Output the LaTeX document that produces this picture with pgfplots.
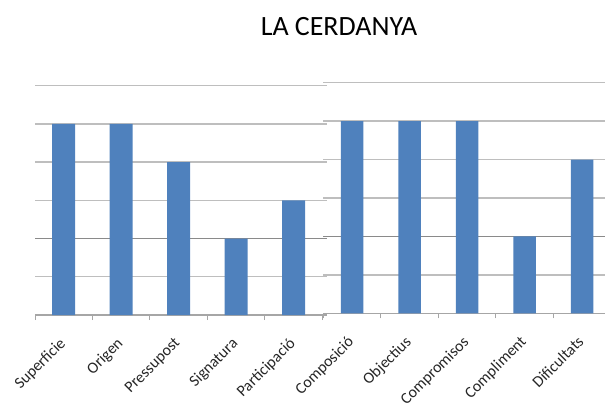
\documentclass[border=0pt]{standalone}
\usepackage{fontspec}
\setmainfont{Carlito}
\usepackage{pgfplots}
\pgfplotsset{compat=1.18}
\definecolor{barblue}{HTML}{4F81BD}
\definecolor{gridgray}{HTML}{BEBEBE}
\definecolor{axisgray}{HTML}{A6A6A6}
\definecolor{darkgrid}{HTML}{8A8A8A}

\begin{document}
\begin{tikzpicture}[x=1bp,y=1bp]
\useasboundingbox (0,0) rectangle (605,408);
\node[anchor=base, inner sep=0pt, font=\fontsize{28}{30}\selectfont] at (339,373) {LA CERDANYA};
\pgfplotsset{cerd/.style={
  scale only axis,
  anchor=south west,
  ymin=0, ymax=6,
  ytick={0,1,3,4,5,6},
  extra y ticks={2},
  extra y tick style={grid style={darkgrid, line width=1.3bp}},
  yticklabels={}, extra y tick labels={},
  ymajorgrids,
  grid style={gridgray, line width=1.3bp},
  axis lines*=left,
  y axis line style={draw=none},
  ytick style={draw=none},
  x axis line style={axisgray, line width=1.2bp, -},
  xtick={0,1,2,3,4},
  minor xtick={-0.5,0.5,1.5,2.5,3.5,4.5},
  major tick length=0pt,
  minor tick length=5bp,
  tick align=outside,
  xtick style={axisgray, line width=1bp},
  xticklabel style={rotate=45, anchor=north east, inner sep=0pt,
     font=\fontsize{16}{16}\selectfont, xshift=-18.9bp, yshift=-11.3bp, text=black!85},
  clip=true,
}}
\begin{axis}[cerd, at={(35bp,93bp)}, width=291.9bp, height=229.3bp,
  xmin=-0.5, xmax=4.58,
  xticklabels={Superficie,Origen,Pressupost,Signatura,Participació}]
\addplot[ybar, bar width=23bp, fill=barblue, draw=none]
  coordinates {(0,5) (1,5) (2,4) (3,2) (4,3)};
\end{axis}
\begin{axis}[cerd, at={(323.3bp,94.7bp)}, width=281.75bp, height=230.6bp,
  xmin=-0.5, xmax=4.4,
  xticklabels={Composició,Objectius,Compromisos,Compliment,Dificultats}]
\addplot[ybar, bar width=22.5bp, fill=barblue, draw=none]
  coordinates {(0,5) (1,5) (2,5) (3,2) (4,4)};
\end{axis}
\end{tikzpicture}
\end{document}
